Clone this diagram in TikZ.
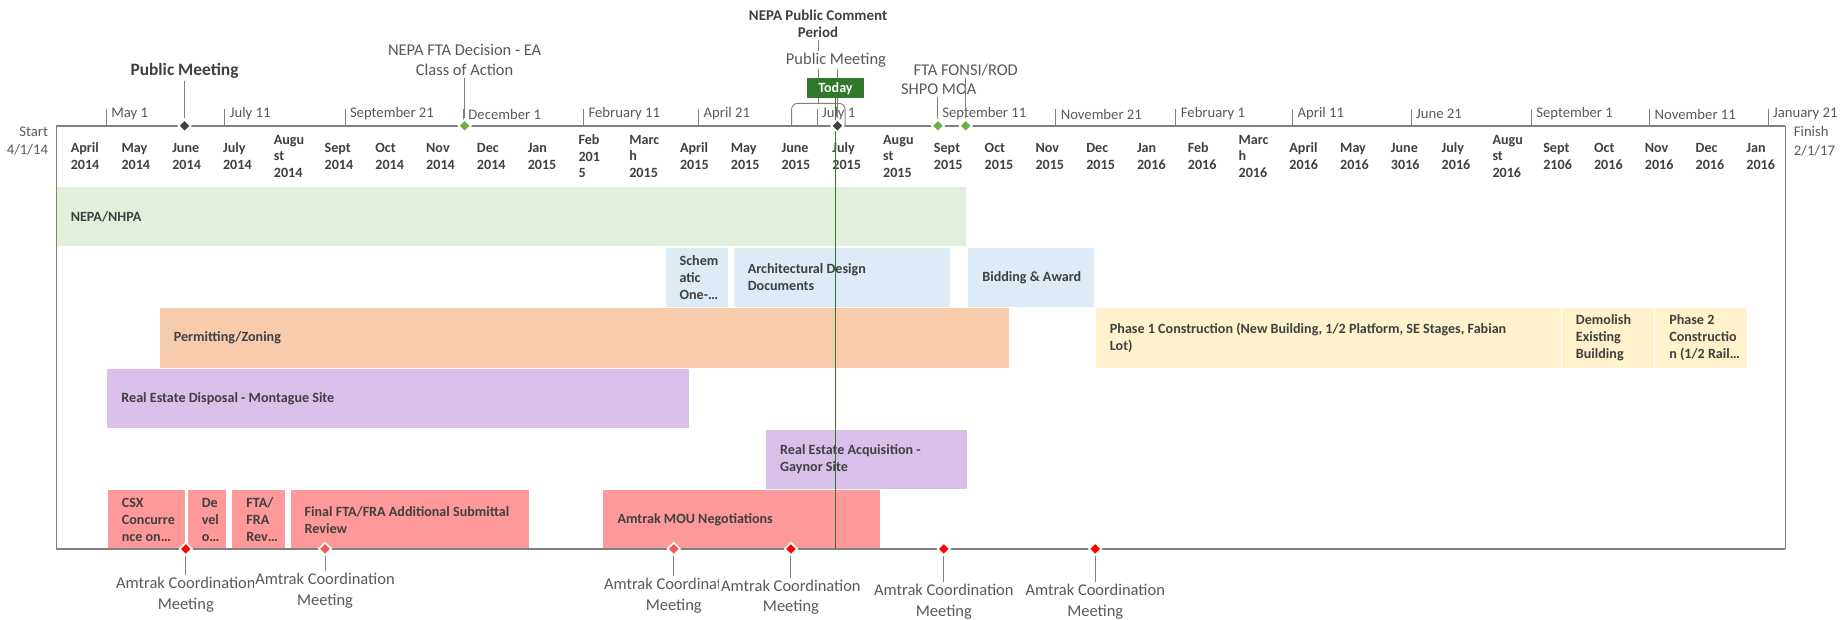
\documentclass[tikz,border=0pt]{standalone}
\usepackage{fontspec}
\setmainfont{Carlito}
\usepackage{tikz}
\usetikzlibrary{shapes.geometric, calc}

\definecolor{axisgray}{RGB}{128,128,128}
\definecolor{txtdark}{RGB}{64,64,64}
\definecolor{txtlight}{RGB}{89,89,89}
\definecolor{nepagreen}{RGB}{226,239,218}
\definecolor{designblue}{RGB}{221,235,247}
\definecolor{permitorange}{RGB}{248,203,173}
\definecolor{buildyellow}{RGB}{255,242,204}
\definecolor{estatepurple}{RGB}{217,192,235}
\definecolor{amtrakred}{RGB}{255,153,153}
\definecolor{todaygreen}{RGB}{49,120,45}
\definecolor{msgreen}{RGB}{112,173,71}
\definecolor{msdark}{RGB}{64,64,64}
\definecolor{msred}{RGB}{255,0,0}
\definecolor{mspink}{RGB}{242,88,88}

\newcommand{\barfont}{\fontsize{12}{14.5}\selectfont\bfseries}
\newcommand{\monthfont}{\fontsize{12}{14}\selectfont\bfseries}
\newcommand{\tickfont}{\fontsize{12.5}{16}\selectfont}
\newcommand{\msfont}{\fontsize{14}{17.5}\selectfont}

\begin{document}
\begin{tikzpicture}[x=1pt, y=-1pt,
    bar/.style={anchor=north west, minimum height=50.3, inner sep=0pt},
    bartext/.style={anchor=west, align=left, font=\barfont, text=txtdark, inner sep=0pt},
    month/.style={anchor=west, align=left, font=\monthfont, text=txtdark, inner sep=0pt},
    ticklabel/.style={anchor=west, font=\tickfont, text=txtlight, inner sep=0pt},
    axisline/.style={draw=axisgray, line width=1.8pt},
    thinline/.style={draw=axisgray, line width=0.8pt},
    ms/.style={diamond, minimum width=11, minimum height=11, inner sep=0pt, draw=white, line width=1.4pt},
    mslabel/.style={align=center, font=\msfont, text=txtlight, fill=white, inner sep=1.5pt}]

    \useasboundingbox (0,0) rectangle (1568,527);

    % Task bars (row pitch 51.6)
    \foreach \name/\x/\w/\row/\col/\txt in {
        nepa/48/774/0/nepagreen/{NEPA/NHPA},
        schem/566/53/1/designblue/{Schem\\atic\\One-…},
        arch/624/184/1/designblue/{Architectural Design\\Documents},
        bid/823.6/107.2/1/designblue/{Bidding \& Award},
        permit/135.7/722.2/2/permitorange/{Permitting/Zoning},
        phase1/932.1/395.4/2/buildyellow/{Phase 1 Construction (New Building, 1/2 Platform, SE Stages, Fabian\\Lot)},
        demo/1328.6/78.3/2/buildyellow/{Demolish\\Existing\\Building},
        phase2/1408/78.2/2/buildyellow/{Phase 2\\Constructio\\n (1/2 Rail…},
        dispose/91.1/494.9/3/estatepurple/{Real Estate Disposal - Montague Site},
        acquire/651.6/170.9/4/estatepurple/{Real Estate Acquisition -\\Gaynor Site},
        csx/91.5/65.9/5/amtrakred/{CSX\\Concurre\\nce on…},
        devel/159.5/32.9/5/amtrakred/{De\\vel\\o…},
        ftafra/197.5/44.4/5/amtrakred/{FTA/\\FRA\\Rev…},
        final/247/203.2/5/amtrakred/{Final FTA/FRA Additional Submittal\\Review},
        mou/513.2/235.2/5/amtrakred/{Amtrak MOU Negotiations}} {
        \node[bar, fill=\col, minimum width=\w] (\name) at (\x, {159+51.6*\row}) {};
        \node[bartext] (\name-t) at ([xshift=12pt]\name.west) {\txt};
    }

    % Month header
    \foreach \m [count=\i from 0] in {{April\\2014}, {May\\2014}, {June\\2014}, {July\\2014},
        {Augu\\st\\2014}, {Sept\\2014}, {Oct\\2014}, {Nov\\2014}, {Dec\\2014}, {Jan\\2015},
        {Feb\\201\\5}, {Marc\\h\\2015}, {April\\2015}, {May\\2015}, {June\\2015}, {July\\2015},
        {Augu\\st\\2015}, {Sept\\2015}, {Oct\\2015}, {Nov\\2015}, {Dec\\2015}, {Jan\\2016},
        {Feb\\2016}, {Marc\\h\\2016}, {April\\2016}, {May\\2016}, {June\\3016}, {July\\2016},
        {Augu\\st\\2016}, {Sept\\2106}, {Oct\\2016}, {Nov\\2016}, {Dec\\2016}, {Jan\\2016}}
        \node[month] (mon\i) at ({60+43.2*\i}, 133) {\m};

    % Frame and time axes
    \draw[thinline] (48,107) -- (48,467);
    \draw[thinline] (1519,107) -- (1519,467);
    \draw[axisline] (48,107) -- (1519,107);
    \draw[axisline] (48,467) -- (1519,467);

    % Ticks on the top axis (days after 4/1/14)
    \foreach \dd/\lbl [count=\k] in {30/May 1, 101/July 11, 173/September 21, 244/December 1,
        316/February 11, 385/April 21, 456/July 1, 528/September 11, 599/November 21,
        671/February 1, 741/April 11, 812/June 21, 884/September 1, 955/November 11, 1026/January 21} {
        \draw[thinline] ({48+1.4195*\dd}, 93) -- ({48+1.4195*\dd}, 107);
        \node[ticklabel] (tk\k) at ({52+1.4195*\dd}, 97) {\lbl};
    }

    \node[ticklabel, anchor=east, align=right] (start) at (41,120) {Start\\4/1/14};
    \node[ticklabel, align=left] (finish) at (1526,120) {Finish\\2/1/17};

    % Today line
    \coordinate (todaytop) at (710.8,83.7);
    \coordinate (todayend) at (710.8,467);
    \draw[todaygreen, line width=0.9pt] (todaytop) -- (todayend);

    % Milestones above the timeline
    \node[ms, fill=msdark] (pm1) at (157,107) {};
    \node[ms, fill=msgreen] (fta) at (395.3,107) {};
    \node[ms, fill=msdark] (pm2) at (712.5,107) {};
    \node[ms, fill=msgreen] (shpo) at (798,107) {};
    \node[ms, fill=msgreen] (fonsi) at (821.6,107) {};

    \node[mslabel, font=\fontsize{14.8}{17}\selectfont\bfseries, text=txtdark] (pm1-l) at (157,60.4) {Public Meeting};
    \node[mslabel] (fta-l) at (395.3,51) {NEPA FTA Decision - EA\\Class of Action};
    \node[mslabel, font=\fontsize{12.7}{15}\selectfont\bfseries, text=txtdark] (npc-l) at (696,20.3) {NEPA Public Comment\\Period};

    % comment period bracket
    \coordinate (brtop) at (696,88);
    \draw[thinline, rounded corners=5pt] (673.5,107) |- (brtop) -| (719,107);
    \draw[thinline] (npc-l.south) -- (brtop);

    \node[mslabel] (pm2-l) at (711.2,51) {Public Meeting};
    \node[mslabel, fill=none] (shpo-l) at (798.6,76) {SHPO MOA};
    \node[mslabel, fill=none] (fonsi-l) at (821.6,59.5) {FTA FONSI/ROD};

    \draw[thinline] (pm1-l.south) -- (pm1.north);
    \draw[thinline] (fta-l.south) -- (fta.north);
    \draw[thinline] (pm2-l.south -| pm2.north) -- (pm2.north);
    \draw[thinline] (shpo-l.south -| shpo.north) -- (shpo.north);
    \draw[thinline] (fonsi-l.south -| fonsi.north) -- (fonsi.north);

    % Amtrak coordination meetings below the timeline
    \foreach \name/\x/\y/\col in {am1/158.1/506/msred, am2/276.5/502.7/mspink, am3/573.2/506.6/mspink,
        am4/672.9/508.2/msred, am5/803/511.7/msred, am6/931.8/511.7/msred} {
        \node[ms, fill=\col] (\name) at (\x,467) {};
        \node[mslabel] (\name-l) at (\x,\y) {Amtrak Coordination\\Meeting};
        \draw[thinline] (\name.south) -- (\name-l.north);
    }

    % Today marker
    \node[fill=todaygreen, text=white, font=\fontsize{12}{12}\selectfont\bfseries,
        minimum width=49, minimum height=17, inner sep=0pt] (today) at (710.8,75.2) {Today};
\end{tikzpicture}
\end{document}
